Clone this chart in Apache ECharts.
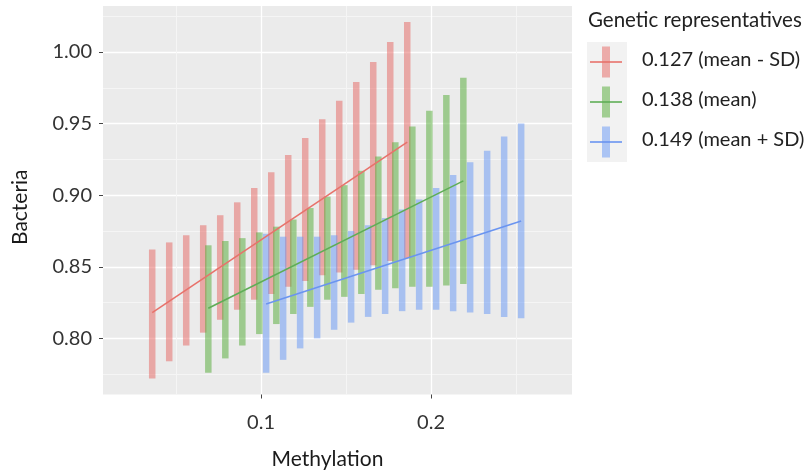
<!DOCTYPE html>
<html>
<head>
<meta charset="utf-8">
<script src="https://cdn.jsdelivr.net/npm/echarts@6/dist/echarts.min.js"></script>
<style>
html,body{margin:0;padding:0;background:#fff;}
#chart{width:810px;height:475px;}
</style>
</head>
<body>
<div id="chart"></div>
<script>
// ---- data ----
const groupNames = ['0.127 (mean - SD)', '0.138 (mean)', '0.149 (mean + SD)'];

const redX    = [0.036,0.046,0.056,0.066,0.076,0.086,0.096,0.106,0.116,0.126,0.136,0.146,0.156,0.166,0.176,0.186];
const redHigh = [0.862,0.867,0.872,0.879,0.886,0.895,0.905,0.916,0.928,0.940,0.953,0.966,0.979,0.993,1.007,1.021];
const redLow  = [0.772,0.784,0.795,0.804,0.813,0.820,0.827,0.831,0.836,0.840,0.844,0.846,0.848,0.851,0.854,0.856];

const greenX    = [0.069,0.079,0.089,0.099,0.109,0.119,0.129,0.139,0.149,0.159,0.169,0.179,0.189,0.199,0.209,0.219];
const greenHigh = [0.865,0.868,0.870,0.874,0.878,0.883,0.891,0.899,0.907,0.917,0.927,0.937,0.948,0.959,0.970,0.982];
const greenLow  = [0.776,0.786,0.795,0.803,0.810,0.817,0.822,0.827,0.829,0.831,0.834,0.835,0.836,0.836,0.837,0.838];

const blueX    = [0.103,0.113,0.123,0.133,0.143,0.153,0.163,0.173,0.183,0.193,0.203,0.213,0.223,0.233,0.243,0.253];
const blueHigh = [0.873,0.871,0.871,0.871,0.872,0.875,0.879,0.884,0.890,0.897,0.905,0.914,0.923,0.931,0.941,0.950];
const blueLow  = [0.776,0.785,0.793,0.800,0.806,0.811,0.815,0.817,0.819,0.820,0.820,0.819,0.818,0.817,0.815,0.814];

// regression lines: [x, y] at start and end
const redLine   = [[0.036, 0.818], [0.186, 0.937]];
const greenLine = [[0.069, 0.821], [0.219, 0.910]];
const blueLine  = [[0.103, 0.824], [0.253, 0.882]];

const xTicks = [0.1, 0.2];
const xTickLabels = ['0.1', '0.2'];
const yTicks = [0.80, 0.85, 0.90, 0.95, 1.00];
const yTickLabels = ['0.80', '0.85', '0.90', '0.95', '1.00'];

const xTitle = 'Methylation';
const yTitle = 'Bacteria';
const legendTitle = 'Genetic representatives';

// ---- styles ----
const FONT = 'Lato';
const barFill  = ['rgba(230,100,95,0.5)', 'rgba(80,170,50,0.5)', 'rgba(100,150,245,0.5)'];
const lineCol  = ['#E8726B', '#5FAE57', '#6A94F0'];

function toRows(xs, lo, hi){ return xs.map((x,i)=>[x, lo[i], hi[i]]); }

function rangeSeries(name, rows, color){
  return {
    type: 'custom', name: name, data: rows, z: 2,
    encode: {x: 0, y: [1,2]},
    renderItem: function(params, api){
      const x = api.value(0);
      const p1 = api.coord([x, api.value(1)]);
      const p2 = api.coord([x, api.value(2)]);
      const w = 6.5;
      return {
        type: 'rect',
        shape: {x: p1[0]-w/2, y: p2[1], width: w, height: p1[1]-p2[1]},
        style: {fill: color}
      };
    }
  };
}
function lineSeries(name, pts, color){
  return {
    type: 'line', name: name, data: pts, z: 3, symbol: 'none',
    lineStyle: {color: color, width: 1.6}, silent: true
  };
}
function labelFor(ticks, labels){
  return v => { for (let i=0;i<ticks.length;i++){ if (Math.abs(v-ticks[i])<1e-9) return labels[i]; } return ''; };
}

const chart = echarts.init(document.getElementById('chart'), null, {renderer: 'canvas'});

const legendKeys = [];
const keyY = [62, 102, 142];
legendKeys.push({type:'rect', shape:{x:587, y:42, width:40, height:120}, style:{fill:'#F2F2F2'}});
for (let i=0;i<3;i++){
  legendKeys.push({type:'rect', shape:{x:602, y:keyY[i]-15.5, width:8, height:31}, style:{fill:barFill[i]}});
  legendKeys.push({type:'line', shape:{x1:590, y1:keyY[i], x2:622, y2:keyY[i]}, style:{stroke:lineCol[i], lineWidth:1.6}});
  legendKeys.push({type:'text', left:642, top:keyY[i]-12, style:{text:groupNames[i], font:'20px '+FONT, fill:'#222'}});
}
legendKeys.push({type:'text', left:588, top:10, style:{text:legendTitle, font:'20.5px '+FONT, fill:'#222'}});

chart.setOption({
  animation: false,
  backgroundColor: '#ffffff',
  grid: {left: 103, top: 6, right: 238, bottom: 80.5, show: true, backgroundColor: '#EBEBEB', borderWidth: 0},
  xAxis: {
    type: 'value', min: 0.00706, max: 0.2829, splitNumber: 3,
    name: xTitle, nameLocation: 'middle', nameGap: 54,
    nameTextStyle: {fontFamily: FONT, fontSize: 21, color: '#1a1a1a', padding: [0, 20, 0, 0]},
    axisLine: {show: false},
    axisTick: {show: true, length: 4, customValues: xTicks, lineStyle: {color: '#444', width: 1}},
    axisLabel: {fontFamily: FONT, fontSize: 20, color: '#333', margin: 18,
      customValues: xTicks, formatter: labelFor(xTicks, xTickLabels)},
    splitLine: {show: true, lineStyle: {color: '#ffffff', width: 1.3}},
    minorTick: {show: false, splitNumber: 2},
    minorSplitLine: {show: true, lineStyle: {color: '#F5F5F5', width: 1}}
  },
  yAxis: {
    type: 'value', min: 0.7608, max: 1.0321, splitNumber: 5,
    name: yTitle, nameLocation: 'middle', nameGap: 72, nameRotate: 90,
    nameTextStyle: {fontFamily: FONT, fontSize: 21, color: '#1a1a1a', padding: [0, 14, 0, 0]},
    axisLine: {show: false},
    axisTick: {show: true, length: 4, customValues: yTicks, lineStyle: {color: '#444', width: 1}},
    axisLabel: {fontFamily: FONT, fontSize: 20, color: '#333', margin: 11,
      customValues: yTicks, formatter: labelFor(yTicks, yTickLabels)},
    splitLine: {show: true, lineStyle: {color: '#ffffff', width: 1.3}},
    minorTick: {show: false, splitNumber: 2},
    minorSplitLine: {show: true, lineStyle: {color: '#F5F5F5', width: 1}}
  },
  series: [
    rangeSeries(groupNames[0], toRows(redX, redLow, redHigh), barFill[0]),
    rangeSeries(groupNames[1], toRows(greenX, greenLow, greenHigh), barFill[1]),
    rangeSeries(groupNames[2], toRows(blueX, blueLow, blueHigh), barFill[2]),
    lineSeries(groupNames[0], redLine, lineCol[0]),
    lineSeries(groupNames[1], greenLine, lineCol[1]),
    lineSeries(groupNames[2], blueLine, lineCol[2])
  ],
  graphic: legendKeys
});
</script>
</body>
</html>
